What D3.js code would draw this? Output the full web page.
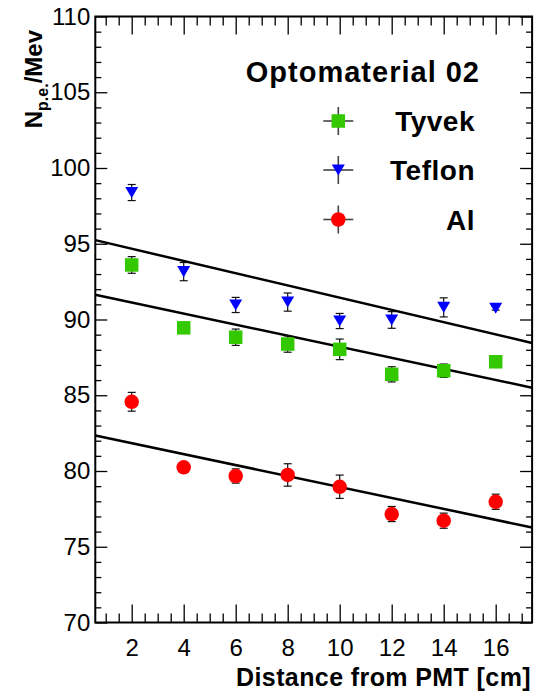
<!DOCTYPE html>
<html>
<head>
<meta charset="utf-8">
<title>Optomaterial 02</title>
<script src="https://d3js.org/d3.v7.min.js"></script>
<style>
    body { margin: 0; background: #fff; }
    svg { display: block; font-family: "Liberation Sans", Arial, sans-serif; }
    .tick text { font-size: 24px; fill: #000; }
    .tick line { stroke: #000; stroke-width: 1.3px; }
    .domain { display: none; }
</style>
</head>
<body>
<div id="chart"></div>
<script>
// values
const distance = [2, 4, 6, 8, 10, 12, 14, 16];
const tyvek    = [93.6, 89.45, 88.83, 88.38, 88.03, 86.38, 86.62, 87.21];
const tyvekErr = [0.55, 0.2, 0.54, 0.54, 0.68, 0.5, 0.44, 0.2];
const teflon    = [98.38, 93.16, 90.96, 91.15, 89.9, 89.97, 90.8, 90.74];
const teflonErr = [0.53, 0.6, 0.5, 0.6, 0.5, 0.55, 0.63, 0.12];
const al    = [84.57, 80.24, 79.67, 79.74, 78.96, 77.16, 76.72, 77.97];
const alErr = [0.62, 0.3, 0.47, 0.74, 0.77, 0.5, 0.5, 0.5];

// linear fits: [intercept, slope]
const fitTyvek  = [91.85, -0.365];
const fitTeflon = [95.48, -0.404];
const fitAl     = [82.56, -0.3615];

const xTicks = [2, 4, 6, 8, 10, 12, 14, 16];
const yTicks = [70, 75, 80, 85, 90, 95, 100, 105, 110];
const legendNames = ["Tyvek", "Teflon", "Al"];

const W = 546, H = 694;
const x = d3.scaleLinear().domain([0.6, 17.4]).range([95.3, 532.1]);
const y = d3.scaleLinear().domain([70, 110]).range([622.5, 16.5]);

const svg = d3.select("#chart").append("svg")
    .attr("width", W).attr("height", H);

// minor ticks
const xMinor = d3.range(1, 17.01, 0.5).filter(v => v % 2 !== 0);
const yMinor = d3.range(71, 110, 1).filter(v => v % 5 !== 0);

svg.append("g").attr("transform", `translate(0,${y(70)})`)
    .call(d3.axisBottom(x).tickValues(xMinor).tickSizeInner(-9).tickSizeOuter(0).tickFormat(""));
svg.append("g").attr("transform", `translate(0,${y(110)})`)
    .call(d3.axisTop(x).tickValues(xMinor).tickSizeInner(-9).tickSizeOuter(0).tickFormat(""));
svg.append("g").attr("transform", `translate(${x(0.6)},0)`)
    .call(d3.axisLeft(y).tickValues(yMinor).tickSizeInner(-6).tickSizeOuter(0).tickFormat(""));
svg.append("g").attr("transform", `translate(${x(17.4)},0)`)
    .call(d3.axisRight(y).tickValues(yMinor).tickSizeInner(-6).tickSizeOuter(0).tickFormat(""));

// major ticks + labels
svg.append("g").attr("transform", `translate(0,${y(70)})`)
    .call(d3.axisBottom(x).tickValues(xTicks).tickSizeInner(-18).tickSizeOuter(0).tickPadding(16.5));
svg.append("g").attr("transform", `translate(0,${y(110)})`)
    .call(d3.axisTop(x).tickValues(xTicks).tickSizeInner(-18).tickSizeOuter(0).tickFormat(""));
svg.append("g").attr("transform", `translate(${x(0.6)},0)`)
    .call(d3.axisLeft(y).tickValues(yTicks).tickSizeInner(-12).tickSizeOuter(0).tickPadding(5));
svg.append("g").attr("transform", `translate(${x(17.4)},0)`)
    .call(d3.axisRight(y).tickValues(yTicks).tickSizeInner(-12).tickSizeOuter(0).tickFormat(""));

svg.selectAll(".tick text").attr("fill", "#000");

// frame
svg.append("rect")
    .attr("x", x(0.6)).attr("y", y(110))
    .attr("width", x(17.4) - x(0.6)).attr("height", y(70) - y(110))
    .attr("fill", "none").attr("stroke", "#000").attr("stroke-width", 2);

// fit lines
[fitTeflon, fitTyvek, fitAl].forEach(f => {
    const xs = x.domain();
    svg.append("line")
        .attr("x1", x(xs[0])).attr("y1", y(f[0] + f[1] * xs[0]))
        .attr("x2", x(xs[1])).attr("y2", y(f[0] + f[1] * xs[1]))
        .attr("stroke", "#000").attr("stroke-width", 2.5);
});

// marker shapes
function square(g, s) {
    g.append("rect").attr("x", -s / 2).attr("y", -s / 2).attr("width", s).attr("height", s);
}
function triDown(g, s) {
    const w = s, h = s * 0.85;
    g.append("path").attr("d", `M${-w / 2},${-h / 2}L${w / 2},${-h / 2}L0,${h / 2}Z`);
}
function circle(g, s) {
    g.append("circle").attr("r", s / 2);
}

const series = [
    { vals: tyvek, err: tyvekErr, color: "#33c800", shape: square, size: 13.5 },
    { vals: teflon, err: teflonErr, color: "#0000ff", shape: triDown, size: 13 },
    { vals: al, err: alErr, color: "#ff0000", shape: circle, size: 14.5 }
];

series.forEach(s => {
    const g = svg.append("g");
    distance.forEach((d, i) => {
        const cx = x(d), lo = y(s.vals[i] - s.err[i]), hi = y(s.vals[i] + s.err[i]);
        g.append("line").attr("x1", cx).attr("x2", cx).attr("y1", lo).attr("y2", hi)
            .attr("stroke", "#111").attr("stroke-width", 1.2);
        [lo, hi].forEach(yy => g.append("line")
            .attr("x1", cx - 4).attr("x2", cx + 4).attr("y1", yy).attr("y2", yy)
            .attr("stroke", "#111").attr("stroke-width", 1.2));
        const m = g.append("g").attr("transform", `translate(${cx},${y(s.vals[i])})`)
            .attr("fill", s.color);
        s.shape(m, s.size);
    });
});

// legend
svg.append("text")
    .attr("x", 480).attr("y", 82)
    .attr("text-anchor", "end")
    .style("font-size", "29px").style("font-weight", "bold").style("letter-spacing", "1px")
    .text("Optomaterial 02");

const legY = [121, 170, 219.5];
legendNames.forEach((name, i) => {
    const g = svg.append("g").attr("transform", `translate(338.3,${legY[i]})`);
    g.append("line").attr("x1", -15).attr("x2", 15).attr("stroke", "#444").attr("stroke-width", 1.6);
    g.append("line").attr("y1", -14).attr("y2", 14).attr("stroke", "#444").attr("stroke-width", 1.6);
    const m = g.append("g").attr("fill", series[i].color);
    series[i].shape(m, series[i].size);
    svg.append("text")
        .attr("x", 475).attr("y", legY[i] + 10)
        .attr("text-anchor", "end")
        .style("font-size", "28px").style("font-weight", "bold").style("letter-spacing", "0.5px")
        .text(name);
});

// axis titles
svg.append("text")
    .attr("x", 531).attr("y", 686)
    .attr("text-anchor", "end")
    .style("font-size", "25px").style("font-weight", "bold").style("letter-spacing", "0.4px")
    .text("Distance from PMT [cm]");

const yt = svg.append("text")
    .attr("transform", "translate(42,30) rotate(-90)")
    .attr("text-anchor", "end")
    .style("font-size", "24px").style("font-weight", "bold");
yt.append("tspan").text("N");
yt.append("tspan").attr("dy", 6).style("font-size", "16px").text("p.e.");
yt.append("tspan").attr("dy", -6).text("/Mev");
</script>
</body>
</html>
